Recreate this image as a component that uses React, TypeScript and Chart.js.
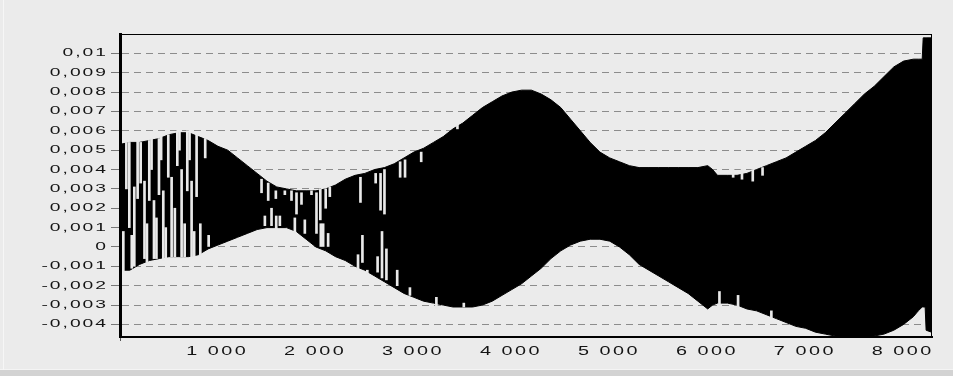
import React, { useEffect, useRef } from 'react';
import { Chart, registerables } from 'chart.js';

Chart.register(...registerables);

// ---- data ----
const envX = [0, 100, 200, 300, 400, 500, 600, 700, 800, 900, 1000, 1100, 1200, 1300, 1400, 1500, 1600, 1700, 1800, 1900, 2000, 2100, 2200, 2300, 2400, 2500, 2600, 2700, 2800, 2900, 3000, 3100, 3200, 3300, 3400, 3500, 3600, 3700, 3800, 3900, 4000, 4100, 4200, 4300, 4400, 4500, 4600, 4700, 4800, 4900, 5000, 5100, 5200, 5300, 5400, 5500, 5600, 5700, 5800, 5900, 6000, 6050, 6100, 6200, 6300, 6400, 6500, 6600, 6700, 6800, 6900, 7000, 7100, 7200, 7300, 7400, 7500, 7600, 7700, 7800, 7900, 8000, 8100, 8150, 8190, 8200, 8220, 8230, 8285];

const upperEnv = [0.0053, 0.0054, 0.0054, 0.0055, 0.0056, 0.0058, 0.0059, 0.0059, 0.0057, 0.0055, 0.0052, 0.0050, 0.0046, 0.0042, 0.0038, 0.0034, 0.0031, 0.0030, 0.0029, 0.0029, 0.0029, 0.0030, 0.0032, 0.0035, 0.0037, 0.0038, 0.0040, 0.0041, 0.0043, 0.0046, 0.0049, 0.0051, 0.0054, 0.0057, 0.0061, 0.0064, 0.0068, 0.0072, 0.0075, 0.0078, 0.0080, 0.0081, 0.0081, 0.0079, 0.0076, 0.0072, 0.0066, 0.0060, 0.0054, 0.0049, 0.0046, 0.0044, 0.0042, 0.0041, 0.0041, 0.0041, 0.0041, 0.0041, 0.0041, 0.0041, 0.0042, 0.0040, 0.0037, 0.0037, 0.0037, 0.0038, 0.0040, 0.0042, 0.0044, 0.0046, 0.0049, 0.0052, 0.0055, 0.0059, 0.0064, 0.0069, 0.0074, 0.0079, 0.0083, 0.0088, 0.0093, 0.0096, 0.0097, 0.0097, 0.0097, 0.0108, 0.0108, 0.0108, 0.0108];

const lowerEnv = [-0.0012, -0.0012, -0.0009, -0.0007, -0.0006, -0.0005, -0.0005, -0.0005, -0.0004, -0.0001, 0.0001, 0.0003, 0.0005, 0.0007, 0.0009, 0.0010, 0.0010, 0.0010, 0.0008, 0.0004, 0.0000, -0.0002, -0.0005, -0.0007, -0.0010, -0.0012, -0.0015, -0.0018, -0.0021, -0.0024, -0.0026, -0.0028, -0.0029, -0.0030, -0.0031, -0.0031, -0.0031, -0.0030, -0.0028, -0.0025, -0.0022, -0.0019, -0.0015, -0.0011, -0.0006, -0.0002, 0.0001, 0.0003, 0.0004, 0.0004, 0.0003, 0.0000, -0.0004, -0.0009, -0.0012, -0.0015, -0.0018, -0.0021, -0.0024, -0.0028, -0.0032, -0.0030, -0.0029, -0.0029, -0.0030, -0.0032, -0.0033, -0.0035, -0.0037, -0.0039, -0.0041, -0.0042, -0.0044, -0.0045, -0.0046, -0.0047, -0.0047, -0.0047, -0.0046, -0.0045, -0.0043, -0.0040, -0.0036, -0.0033, -0.0031, -0.0031, -0.0031, -0.0043, -0.0044];

// light vertical gaps visible inside the black signal
const gapX = [34, 65, 95, 120, 146, 180, 211, 250, 275, 299, 322, 347, 372, 398, 420, 442, 467, 493, 527, 560, 585, 607, 629, 660, 687, 710, 731, 757, 782, 820, 870, 905,
  1445, 1479, 1513, 1547, 1591, 1595, 1632, 1683, 1751, 1785, 1802, 1853, 1887, 1955, 2006, 2045, 2050, 2074, 2100, 2125, 2142,
  2430, 2455, 2475, 2525, 2610, 2630, 2660, 2675, 2700, 2720, 2830, 2860, 2910, 2960, 3075, 3230, 3445, 3510,
  6120, 6260, 6310, 6350, 6460, 6560, 6650];
const gapLow = [-0.0013, 0.0030, 0.0010, -0.0011, -0.0010, 0.0025, 0.0033, -0.0006, -0.0008, 0.0024, 0.0040, -0.0006, -0.0006, 0.0027, 0.0045, -0.0007, -0.0006, 0.0036, -0.0005, -0.0005, 0.0042, 0.0050, -0.0005, -0.0005, 0.0029, 0.0045, -0.0005, -0.0005, 0.0026, -0.0004, 0.0046, 0.0000,
  0.0028, 0.0011, 0.0024, 0.0011, 0.0025, 0.0009, 0.0011, 0.0027, 0.0024, 0.0007, 0.0017, 0.0022, 0.0007, 0.0027, 0.0007, 0.0014, 0.0000, 0.0000, 0.0020, 0.0000, 0.0026,
  -0.0012, 0.0023, -0.0008, -0.0014, 0.0033, -0.0013, 0.0019, -0.0016, 0.0017, -0.0017, -0.0020, 0.0036, 0.0036, -0.0025, 0.0044, -0.0032, 0.0061, -0.0031,
  -0.0030, 0.0036, -0.0031, 0.0035, 0.0034, 0.0037, -0.0037];
const gapHigh = [0.0008, 0.0054, 0.0054, 0.0006, 0.0031, 0.0055, 0.0054, 0.0034, 0.0012, 0.0055, 0.0056, 0.0024, 0.0015, 0.0056, 0.0057, 0.0029, 0.0010, 0.0058, 0.0036, 0.0020, 0.0060, 0.0060, 0.0040, 0.0012, 0.0060, 0.0060, 0.0034, 0.0008, 0.0058, 0.0012, 0.0056, 0.0006,
  0.0035, 0.0016, 0.0033, 0.0020, 0.0029, 0.0016, 0.0016, 0.0029, 0.0029, 0.0015, 0.0028, 0.0028, 0.0014, 0.0029, 0.0028, 0.0030, 0.0012, 0.0012, 0.0030, 0.0007, 0.0031,
  -0.0004, 0.0036, 0.0006, -0.0012, 0.0038, -0.0005, 0.0038, 0.0008, 0.0040, -0.0001, -0.0012, 0.0044, 0.0045, -0.0021, 0.0049, -0.0026, 0.0063, -0.0029,
  -0.0023, 0.0040, -0.0025, 0.0040, 0.0040, 0.0041, -0.0033];

const yTickValues = [-0.004, -0.003, -0.002, -0.001, 0, 0.001, 0.002, 0.003, 0.004, 0.005, 0.006, 0.007, 0.008, 0.009, 0.01];
const yTickLabels = ['-0,004', '-0,003', '-0,002', '-0,001', '0', '0,001', '0,002', '0,003', '0,004', '0,005', '0,006', '0,007', '0,008', '0,009', '0,01'];
const xTickValues = [1000, 2000, 3000, 4000, 5000, 6000, 7000, 8000];
const xTickLabels = ['1 000', '2 000', '3 000', '4 000', '5 000', '6 000', '7 000', '8 000'];

const X_MIN = 0;
const X_MAX = 8290;
const Y_MIN = -0.00465;
const Y_MAX = 0.011;

const BG = '#ebebeb';
const GAP_COLOR = '#e9e9e9';
const GRID = '#8c8c8c';
const TEXT = '#141414';

// wide, spaced-out label lettering of the original
function drawSpaced(
  ctx: CanvasRenderingContext2D,
  text: string,
  anchorX: number,
  y: number,
  align: 'right' | 'center',
  sx: number,
  gap: number
) {
  const chars = Array.from(text);
  const advs = chars.map((ch) => ctx.measureText(ch).width * sx);
  const total = advs.reduce((a, b) => a + b, 0) + gap * (chars.length - 1);
  let x = align === 'right' ? anchorX - total : anchorX - total / 2;
  chars.forEach((ch, i) => {
    ctx.save();
    ctx.translate(x, y);
    ctx.scale(sx, 1);
    ctx.fillText(ch, 0, 0);
    ctx.restore();
    x += advs[i] + gap;
  });
}

const framePlugin = {
  id: 'frameAndLabels',
  afterDraw(chart: any) {
    const { ctx, chartArea, scales } = chart;
    ctx.save();
    ctx.strokeStyle = '#000';
    ctx.lineWidth = 1;
    ctx.beginPath();
    ctx.moveTo(chartArea.left, chartArea.top + 0.5);
    ctx.lineTo(chartArea.right, chartArea.top + 0.5);
    ctx.moveTo(chartArea.right - 0.5, chartArea.top);
    ctx.lineTo(chartArea.right - 0.5, chartArea.bottom);
    ctx.stroke();

    ctx.fillStyle = TEXT;
    ctx.textAlign = 'left';
    ctx.textBaseline = 'middle';
    ctx.font = '11px "Liberation Sans", Arial, sans-serif';
    yTickValues.forEach((v, i) => {
      const py = scales.y.getPixelForValue(v);
      drawSpaced(ctx, yTickLabels[i], 106, py, 'right', 1.75, 2);
    });
    ctx.font = '12px "Liberation Sans", Arial, sans-serif';
    xTickValues.forEach((v, i) => {
      const px = scales.x.getPixelForValue(v);
      drawSpaced(ctx, xTickLabels[i], px - 2, 352, 'center', 1.65, 2.5);
    });
    ctx.restore();
  },
};

export default function App() {
  const ref = useRef<HTMLCanvasElement | null>(null);

  useEffect(() => {
    if (!ref.current) return;
    const upperPts = envX.map((x, i) => ({ x, y: upperEnv[i] }));
    const lowerPts = envX.map((x, i) => ({ x, y: lowerEnv[i] }));
    const gapPts = gapX.map((x, i) => ({ x, y: [gapLow[i], gapHigh[i]] }));

    const chart = new Chart(ref.current, {
      type: 'line',
      data: {
        datasets: [
          {
            type: 'bar',
            data: gapPts as any,
            backgroundColor: GAP_COLOR,
            borderWidth: 0,
            barThickness: 2,
            grouped: false,
            order: 0,
          } as any,
          {
            type: 'line',
            data: upperPts,
            borderColor: '#000',
            backgroundColor: '#000',
            borderWidth: 1,
            pointRadius: 0,
            fill: '+1',
            order: 1,
          },
          {
            type: 'line',
            data: lowerPts,
            borderColor: '#000',
            backgroundColor: '#000',
            borderWidth: 1,
            pointRadius: 0,
            fill: false,
            order: 2,
          },
        ],
      },
      options: {
        animation: false,
        responsive: false,
        maintainAspectRatio: false,
        layout: { padding: { top: 34, right: 21, left: 0, bottom: 0 } },
        plugins: { legend: { display: false }, tooltip: { enabled: false } },
        scales: {
          x: {
            type: 'linear',
            min: X_MIN,
            max: X_MAX,
            offset: false,
            ticks: { display: false, stepSize: 250 },
            afterBuildTicks: (s: any) => {
              s.ticks = s.ticks.filter((t: any) => t.value % 250 === 0);
            },
            afterFit: (s: any) => {
              s.height = 39;
            },
            grid: {
              offset: false,
              color: (c: any) => (c.tick && xTickValues.includes(c.tick.value) ? '#6a6a6a' : 'rgba(0,0,0,0)'),
              lineWidth: 1,
              drawTicks: true,
              tickLength: 4,
              tickColor: '#555',
            },
            border: { display: true, color: '#000', width: 2, dash: [2, 2] },
          },
          y: {
            type: 'linear',
            min: Y_MIN,
            max: Y_MAX,
            ticks: { display: false },
            afterBuildTicks: (s: any) => {
              s.ticks = yTickValues.map((v) => ({ value: v }));
            },
            afterFit: (s: any) => {
              s.width = 120;
            },
            grid: {
              color: GRID,
              lineWidth: 1,
              drawTicks: true,
              tickLength: 9,
              tickColor: '#777',
              tickBorderDash: [],
            },
            border: { display: true, color: '#000', width: 3, dash: [7, 5] },
          },
        },
      },
      plugins: [framePlugin],
    } as any);

    return () => chart.destroy();
  }, []);

  return (
    <div style={{ position: 'fixed', left: 0, top: 0, width: 953, height: 376, background: BG, overflow: 'hidden' }}>
      <canvas ref={ref} width={953} height={376} style={{ display: 'block', width: 953, height: 376 }} />
      <div style={{ position: 'absolute', left: 0, bottom: 0, width: 953, height: 6, background: '#d3d3d3', borderTop: '1px solid #f4f4f4' }} />
      <div style={{ position: 'absolute', left: 3, top: 0, width: 1, height: 370, background: '#f6f6f6' }} />
    </div>
  );
}
